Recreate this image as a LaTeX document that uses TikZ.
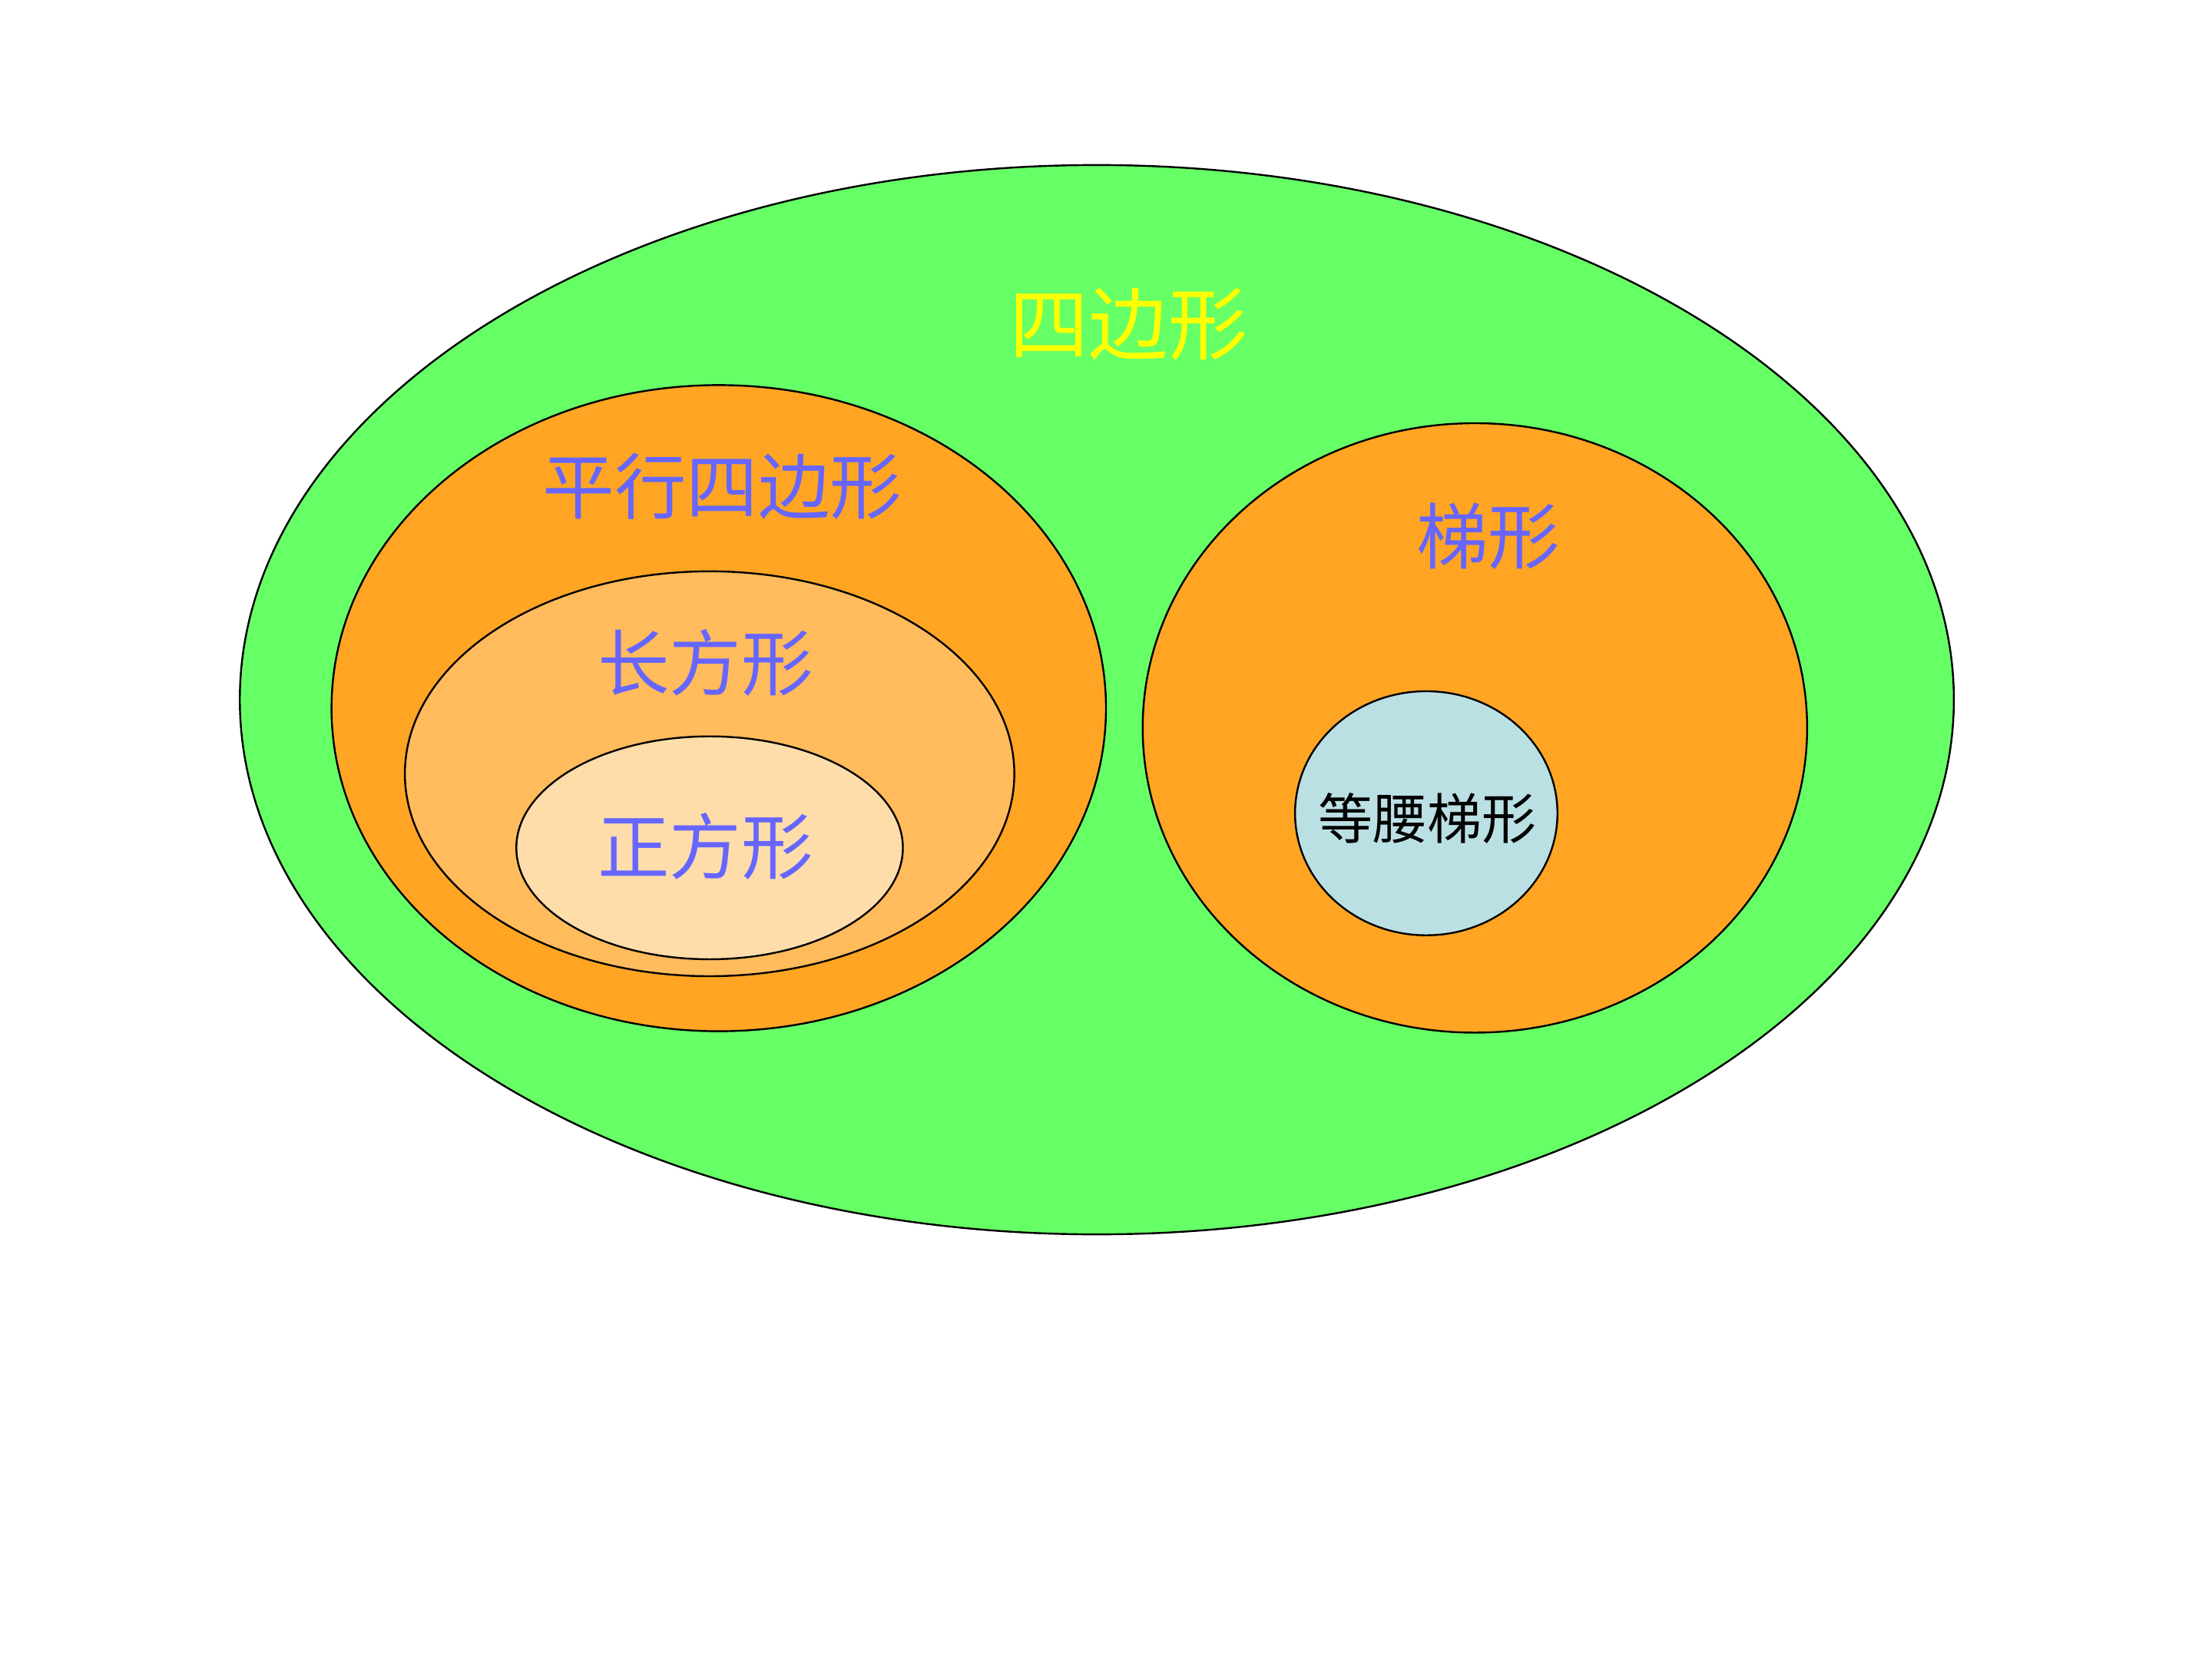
\documentclass[tikz,border=0pt]{standalone}
\usepackage{fontspec}
\usepackage{tikz}
\newfontfamily\cjk{Noto Sans CJK SC}
\definecolor{lawn}{HTML}{66FF66}
\definecolor{amber}{HTML}{FFA523}
\definecolor{apricot}{HTML}{FFBB5C}
\definecolor{cream}{HTML}{FFDDAA}
\definecolor{frost}{HTML}{BBE0E3}
\definecolor{violet}{HTML}{6666FF}
\definecolor{lemon}{HTML}{FFFF00}
\begin{document}
\begin{tikzpicture}[x=0.02cm,y=0.02cm,line width=0.75pt,every node/.style={font=\cjk}]
  \useasboundingbox[fill=white] (0,0) rectangle (1568,1176);
  \draw[fill=lawn] (777.5,680) ellipse [x radius=607.5,y radius=379];
  \draw[fill=amber] (509.5,674) ellipse [x radius=274.5,y radius=229];
  \draw[fill=apricot] (503,627.5) ellipse [x radius=216,y radius=143.5];
  \draw[fill=cream] (503,575) ellipse [x radius=137,y radius=79];
  \draw[fill=amber] (1045.5,660) ellipse [x radius=235.5,y radius=216];
  \draw[fill=frost] (1011,599.5) ellipse [x radius=93,y radius=86.5];
  \node[text=lemon,font=\cjk\fontsize{32}{36}\selectfont] (quad) at (800,946) {四边形};
  \node[text=violet,font=\cjk\fontsize{29}{33}\selectfont] (para) at (512,831) {平行四边形};
  \node[text=violet,font=\cjk\fontsize{29}{33}\selectfont] (rect) at (500,706) {长方形};
  \node[text=violet,font=\cjk\fontsize{29}{33}\selectfont] (sqr) at (500,576) {正方形};
  \node[text=violet,font=\cjk\fontsize{29}{33}\selectfont] (trap) at (1055,796) {梯形};
  \node[font=\cjk\fontsize{22}{26}\selectfont] (iso) at (1012,596) {等腰梯形};
\end{tikzpicture}
\end{document}
